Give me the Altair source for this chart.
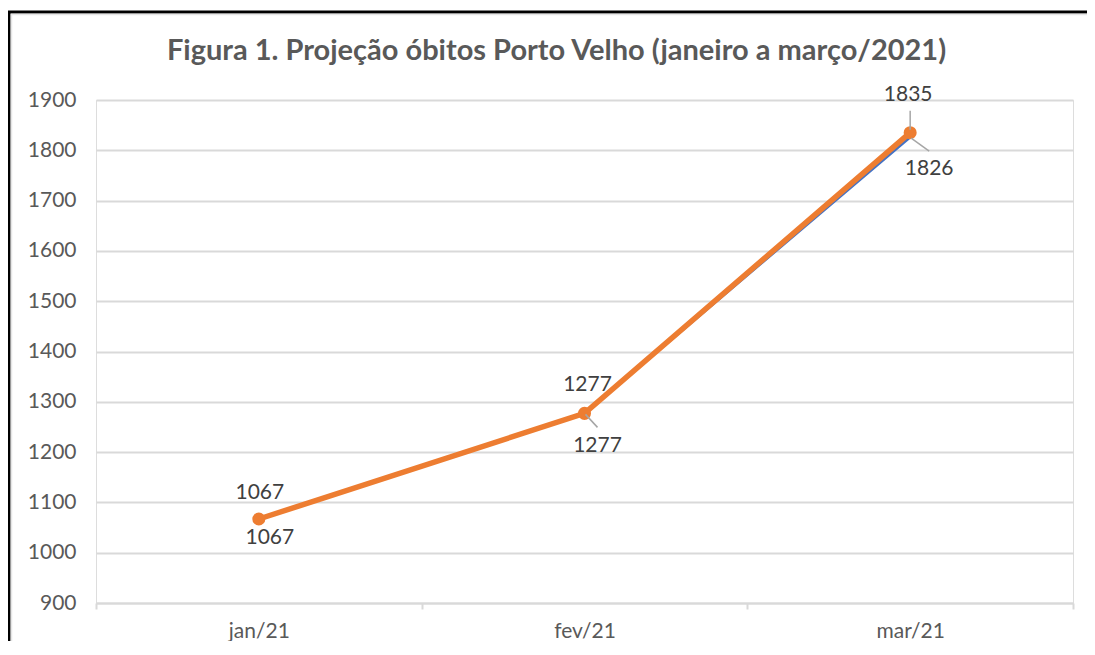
import altair as alt
import pandas as pd

months = ["jan/21", "fev/21", "mar/21"]
serie_azul = [1067, 1277, 1826]
serie_laranja = [1067, 1277, 1835]
y_ticks = [900, 1000, 1100, 1200, 1300, 1400, 1500, 1600, 1700, 1800, 1900]
title_text = "Figura 1. Projeção óbitos Porto Velho (janeiro a março/2021)"

BLUE = "#4472C4"
ORANGE = "#ED7D31"
GREY_TXT = "#595959"
LBL_TXT = "#404040"
GRID = "#d9d9d9"
FONT = "Lato"

df = pd.DataFrame({
    "mes": months * 2,
    "valor": serie_azul + serie_laranja,
    "serie": ["azul"] * 3 + ["laranja"] * 3,
})

W, H = 977, 503

x_enc = alt.X("mes:N", sort=months,
              scale=alt.Scale(type="band", domain=months, paddingInner=0, paddingOuter=0),
              axis=alt.Axis(title=None, labelAngle=0, labelColor=GREY_TXT, labelFontSize=21,
                            labelFont=FONT, labelPadding=11, tickBand="extent",
                            tickColor=GRID, tickWidth=2, tickSize=6, domainColor=GRID,
                            domainWidth=2, grid=False))
y_enc = alt.Y("valor:Q",
              scale=alt.Scale(domain=[900, 1900], nice=False, zero=False),
              axis=alt.Axis(title=None, values=y_ticks, format="d", labelColor=GREY_TXT,
                            labelFontSize=21, labelFont=FONT, labelPadding=20, ticks=False,
                            domain=False, grid=True, gridColor=GRID, gridWidth=2))

base = alt.Chart(df)

one = alt.Data(values=[{"k": 1}])
frame = alt.Chart(one).mark_rect(fill="transparent", stroke="black", strokeWidth=3).encode(
    x=alt.value(-87), x2=alt.value(W + 60), y=alt.value(-88), y2=alt.value(H + 80))
frame_inner = alt.Chart(one).mark_rect(fill="transparent", stroke="#e6e6e6", strokeWidth=1.5).encode(
    x=alt.value(-84.5), x2=alt.value(W + 60), y=alt.value(-85.5), y2=alt.value(H + 80))
title_mark = alt.Chart(one).mark_text(
    text=title_text, font=FONT, fontSize=29, fontWeight="bold", color=GREY_TXT,
    align="center", baseline="middle").encode(
    x=alt.value(W / 2 - 28), y=alt.value(-49))

blue_line = base.transform_filter("datum.serie == 'azul'").mark_line(
    color=BLUE, strokeWidth=2.5).encode(x=x_enc, y=y_enc)
orange_line = base.transform_filter("datum.serie == 'laranja'").mark_line(
    color=ORANGE, strokeWidth=5.5).encode(x=x_enc, y=y_enc)
orange_pts = base.transform_filter("datum.serie == 'laranja'").mark_circle(
    color=ORANGE, size=170, opacity=1).encode(x=x_enc, y=y_enc)

# label placement (series, month, dx, dy)
label_specs = [
    ("laranja", "jan/21", 1, -26),
    ("azul", "jan/21", 11, 19),
    ("laranja", "fev/21", 3, -28),
    ("azul", "fev/21", 13, 33),
    ("laranja", "mar/21", -2, -38),
    ("azul", "mar/21", 19, 32),
]
labels = []
for s, m, dx, dy in label_specs:
    labels.append(
        base.transform_filter(f"datum.serie == '{s}' && datum.mes == '{m}'").mark_text(
            font=FONT, fontSize=21, color=LBL_TXT, align="center", baseline="middle",
            dx=dx, dy=dy).encode(x=x_enc, y=y_enc, text=alt.Text("valor:Q", format="d"))
    )

# leader lines (series, month, xOff, yOff, x2Off, y2Off)
leader_specs = [
    ("laranja", "mar/21", 0, -3, 0, -22),
    ("azul", "fev/21", 1, 1, 13, 14),
    ("azul", "mar/21", 1, 1, 19, 14),
]
leaders = []
for s, m, xo, yo, x2o, y2o in leader_specs:
    leaders.append(
        base.transform_filter(f"datum.serie == '{s}' && datum.mes == '{m}'").mark_rule(
            color="#a6a6a6", strokeWidth=1.5, xOffset=xo, yOffset=yo,
            x2Offset=x2o, y2Offset=y2o).encode(
            x=x_enc, x2="mes:N", y=y_enc, y2="valor:Q")
    )

chart = alt.layer(
    frame, frame_inner, title_mark, blue_line, orange_line, orange_pts, *leaders, *labels
).properties(
    width=W, height=H,
    padding={"left": 88, "top": 92, "right": 14, "bottom": 38},
    autosize=alt.AutoSizeParams(type="none"),
).configure_view(stroke=None).configure(background="white")

chart.save("out.html", embed_options={"renderer": "svg", "actions": False})
